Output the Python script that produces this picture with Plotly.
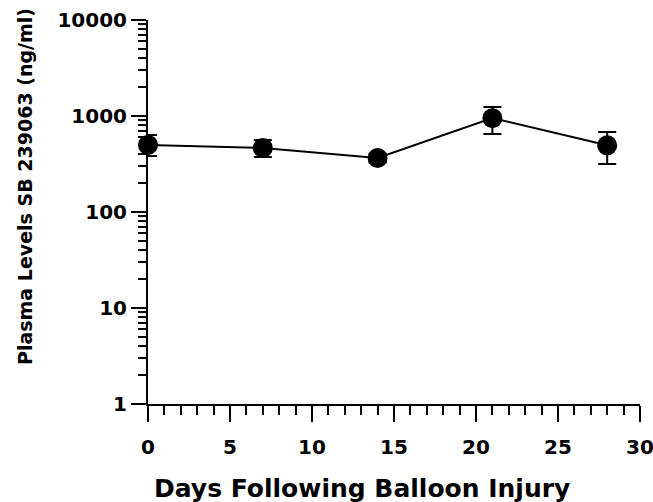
import plotly.graph_objects as go

days = [0, 7, 14, 21, 28]
plasma = [500, 465, 365, 950, 495]
err_plus = [134, 97, 40, 290, 186]
err_minus = [117, 91, 38, 301, 179]

x_tick_vals = [0, 5, 10, 15, 20, 25, 30]
y_tick_vals = [1, 10, 100, 1000, 10000]
y_tick_text = ["1", "10", "100", "1000", "10000"]
x_title = "Days Following Balloon Injury"
y_title = "Plasma Levels SB 239063 (ng/ml)"

y_minor = [m * 10 ** k for k in range(4) for m in range(2, 10)]
x_minor = [d for d in range(0, 31) if d % 5 != 0]

FONT = "DejaVu Sans"

fig = go.Figure()
fig.add_trace(go.Scatter(
    x=days, y=plasma, mode="lines+markers",
    line=dict(color="black", width=2),
    marker=dict(color="black", size=20),
    error_y=dict(type="data", array=err_plus, arrayminus=err_minus,
                 color="black", thickness=2, width=9),
    cliponaxis=False, showlegend=False,
))

fig.update_layout(
    width=653, height=502,
    margin=dict(l=148, r=13, t=20, b=98, autoexpand=False),
    plot_bgcolor="white", paper_bgcolor="white",
    font=dict(family=FONT, color="black", size=20, weight="bold"),
    xaxis=dict(
        range=[0, 30], tickmode="array", tickvals=x_tick_vals,
        ticks="outside", ticklen=16, tickwidth=2, tickcolor="black",
        showline=True, linecolor="black", linewidth=2,
        showgrid=False, zeroline=False, automargin=False,
        tickfont=dict(family=FONT, size=20, weight="bold"),
        ticklabelstandoff=8, ticklabeloverflow="allow",
        minor=dict(tickmode="array", tickvals=x_minor, ticks="outside",
                   ticklen=9, tickwidth=2, tickcolor="black", showgrid=False),
    ),
    yaxis=dict(
        type="log", range=[0, 4], tickmode="array",
        tickvals=y_tick_vals, ticktext=y_tick_text,
        ticks="outside", ticklen=15, tickwidth=2, tickcolor="black",
        showline=True, linecolor="black", linewidth=2,
        showgrid=False, zeroline=False, automargin=False,
        tickfont=dict(family=FONT, size=20, weight="bold"),
        ticklabeloverflow="allow",
        minor=dict(tickmode="array", tickvals=y_minor, ticks="outside",
                   ticklen=8, tickwidth=2, tickcolor="black", showgrid=False),
    ),
    annotations=[
        dict(text=x_title, xref="paper", yref="paper",
             x=(362 - 148) / 492, y=-(488 - 404) / 384,
             xanchor="center", yanchor="middle", showarrow=False,
             font=dict(family=FONT, size=25, weight="bold")),
        dict(text=y_title, xref="paper", yref="paper",
             x=(25 - 148) / 492, y=(404 - 187) / 384, textangle=-90,
             xanchor="center", yanchor="middle", showarrow=False,
             font=dict(family=FONT, size=19, weight="bold")),
    ],
)

fig.write_html(
    "out.html",
    config={"displayModeBar": False},
    post_script="document.body.style.margin='0px';document.body.style.padding='0px';",
)
